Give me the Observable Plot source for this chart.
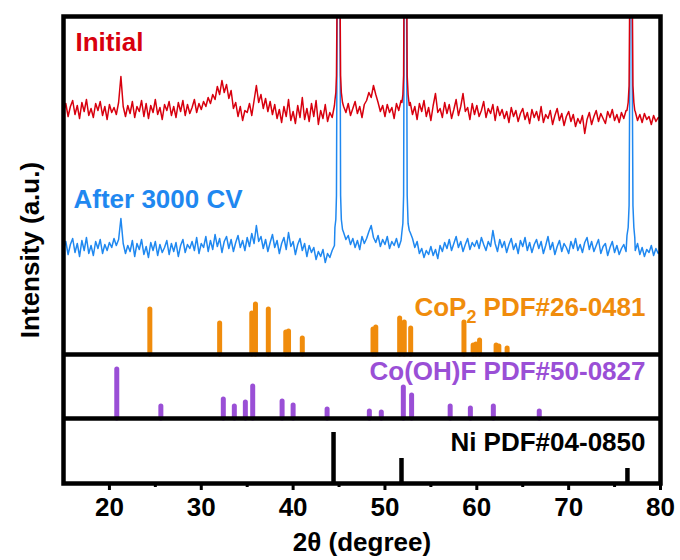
<!DOCTYPE html>
<html><head><meta charset="utf-8">
<script src="https://cdn.jsdelivr.net/npm/d3@7"></script>
<script src="https://cdn.jsdelivr.net/npm/@observablehq/plot@0.6"></script>
<style>body{margin:0;background:#fff}</style>
</head><body><div id="chart"></div>
<script>
// ---- data ----
const gridStart = 15, gridStep = 0.25; // 2θ sampling of the background scans
const redBase = [
18,27,14,24, 30,16,25,12, 28,19,31,15, 22,13,27,20, 29,15,24,11,
26,18,23,16, 28,54,24,14, 25,17,29,13, 24,19,30,14, 27,12,25,18,
31,16,23,11, 26,20,29,15, 24,13,28,19, 30,15,26,17, 23,31,18,27,
21,29,24,33, 27,36,31,44, 36,50,38,46, 32,40,22,28, 14,24,10,20,
18,27,15,30, 45,28,36,22, 32,19,29,16, 26,12,21,8, 24,14,31,10,
19,7,25,13, 33,11,22,9, 27,14,30,6, 20,12,26,9, 18,13,25,null,
null,null,24,18, 27,15,22,29, 17,24,13,26, 30,38,33,45, 36,28,19,25,
14,26,18,23, 12,27,20,30, null,null,null,28, 16,24,11,27, 19,30,14,23,
10,25,37,18, 22,13,28,17, 26,12,21,31, 15,24,37,19, 23,11,27,16,
25,14,20,29, 13,22,17,26, 10,24,15,21, 12,19,8,23, 14,20,9,17,
22,11,18,7, 21,13,19,10, 24,8,16,12, 20,6,15,22, 10,17,5,14,
19,9,16,4, 12,7,15,-3, 11,18,6,14, 20,9,17,12, 7,19,13,21,
10,16,8,18, 12,20,null,null, null,19,10,16, 8,17,11,14, 6,15,9,13,
12];
const blueBase = [
16,24,11,21, 27,13,22,9, 25,15,28,12, 20,10,24,17, 26,12,21,15,
23,18,27,20, 26,47,22,12, 20,14,25,9, 22,16,26,11, 19,8,23,15,
24,10,21,13, 18,25,11,22, 14,23,9,20, 26,13,21,17, 24,15,28,12,
22,18,29,14, 25,16,31,19, 27,13,24,29, 17,26,14,23, 30,18,25,15,
28,19,32,22, 40,24,29,17, 26,14,23,31, 18,25,12,22, 28,16,33,19,
24,11,21,27, 15,22,9,20, 13,18,6,14, 9,16,3,12, 8,15,20,null,
null,null,33,26, 30,21,27,18, 25,16,29,22, 27,34,40,28, 23,30,19,26,
21,29,17,24, 20,27,18,25, null,null,null,33, 27,18,24,12, 17,8,15,11,
19,10,16,7, 20,14,23,17, 26,15,22,29, 18,24,14,21, 27,16,23,19,
25,17,28,21, 15,24,19,35, 22,14,26,18, 24,13,21,27, 16,22,12,25,
19,28,15,23, 13,21,26,17, 24,12,20,29, 16,23,11,19, 25,14,22,18,
12,24,17,27, 15,21,13,23, 28,16,24,14, 20,26,12,19, 22,10,18,24,
13,20,11,17, 21,14,null,null, null,15,22,11, 18,9,16,13, 20,10,17,12,
15];
// sharp diffraction peaks (2θ, intensity)
const peak1X = [44.55,44.65,44.72,44.8,44.9,45.0,45.1,45.17,45.25,45.38];
const peak2X = [51.85,51.95,52.03,52.1,52.18,52.26,52.34,52.42,52.52,52.65];
const peak3X = [76.35,76.48,76.58,76.66,76.75,76.84,76.92,77.0,77.1,77.2];
const redPeak1 = [30,38,55,150,700,700,150,55,38,28];
const redPeak2 = [28,36,55,200,800,800,200,55,36,25];
const redPeak3 = [20,28,45,150,500,500,150,45,28,20];
const bluePeak1 = [38,46,70,280,1500,1500,280,70,46,36];
const bluePeak2 = [34,42,70,300,1500,1500,300,70,42,35];
const bluePeak3 = [30,38,60,200,700,700,200,60,38,28];

// reference patterns
const copX = [24.4,32.0,35.5,35.9,37.3,39.2,39.5,41.0,48.7,49.0,51.6,52.1,52.8,58.6,59.6,59.9,60.3,62.1,62.4,63.3];
const copI = [45,31,41,50,45,22,23,16,25,27,36,32,26,32,9,10,14,9,8,6];
const cohX = [20.8,25.6,32.4,33.6,34.8,35.6,38.8,40.0,43.7,48.3,49.6,52.0,52.9,57.1,59.3,61.8,66.8];
const cohI = [49,12,19,12,16,32,17,13,9,7,6,31,23,12,10,12,7];
const niX = [44.4,51.8,76.4];
const niI = [51,25,15];

const xTicks = [20,30,40,50,60,70,80];
const xMinorTicks = [25,35,45,55,65,75];
const labels = {
  initial: "Initial", after: "After 3000 CV",
  cop: "CoP2 PDF#26-0481", coh: "Co(OH)F PDF#50-0827", ni: "Ni PDF#04-0850",
  x: "2θ (degree)", y: "Intensity (a.u.)"
};

// ---- layout constants ----
const RED = "#d8000e", BLUE = "#1f88f0", ORANGE = "#f08c0c", PURPLE = "#9a4fd6";
const redOffset = 353, blueOffset = 218;
const copBase = 129, cohBase = 65, niBase = 0;

function buildSeries(base, peaks) {
  const pts = [];
  const windows = peaks.map(p => [p.x[0], p.x[p.x.length - 1]]);
  base.forEach((v, i) => {
    const x = gridStart + gridStep * i;
    if (v == null) return;
    if (windows.some(([a, b]) => x >= a && x <= b)) return;
    pts.push({x, v});
  });
  peaks.forEach(p => p.x.forEach((x, j) => pts.push({x, v: p.v[j]})));
  return pts.sort((a, b) => a.x - b.x);
}
const red = buildSeries(redBase, [{x: peak1X, v: redPeak1}, {x: peak2X, v: redPeak2}, {x: peak3X, v: redPeak3}]);
const blue = buildSeries(blueBase, [{x: peak1X, v: bluePeak1}, {x: peak2X, v: bluePeak2}, {x: peak3X, v: bluePeak3}]);
const cop = copX.map((x, i) => ({x, h: copI[i]}));
const coh = cohX.map((x, i) => ({x, h: cohI[i]}));
const ni = niX.map((x, i) => ({x, h: niI[i]}));

const font = {fontSize: 26, fontWeight: "bold"};
const plot = Plot.plot({
  width: 680, height: 560,
  marginLeft: 63, marginRight: 20, marginTop: 16, marginBottom: 77,
  style: {fontFamily: "'Liberation Sans', Arial, sans-serif", fontWeight: "bold", fontSize: "26px", background: "#fff"},
  x: {domain: [15, 80], axis: null},
  y: {domain: [0, 467], axis: null},
  marks: [
    Plot.line(blue, {x: "x", y: d => blueOffset + d.v, stroke: BLUE, strokeWidth: 1.5, clip: true}),
    Plot.line(red, {x: "x", y: d => redOffset + d.v, stroke: RED, strokeWidth: 1.5, clip: true}),
    Plot.ruleX(cop, {x: "x", y1: copBase, y2: d => copBase + d.h, stroke: ORANGE, strokeWidth: 5, strokeLinecap: "round"}),
    Plot.ruleX(coh, {x: "x", y1: cohBase, y2: d => cohBase + d.h, stroke: PURPLE, strokeWidth: 5, strokeLinecap: "round"}),
    Plot.ruleX(ni, {x: "x", y1: niBase, y2: d => niBase + d.h, stroke: "#000", strokeWidth: 4.5}),
    Plot.ruleY([copBase, cohBase], {stroke: "#000", strokeWidth: 4.5}),
    Plot.frame({stroke: "#000", strokeWidth: 4.5}),
    Plot.axisX({ticks: xTicks, tickSize: 7, tickPadding: 7, strokeWidth: 3, label: null, tickFormat: d => String(d), ...font}),
    Plot.axisX({ticks: xMinorTicks, tickSize: 4, strokeWidth: 3, label: null, tickFormat: () => ""}),
    Plot.text([labels.x], {frameAnchor: "bottom", dy: 59, textAnchor: "middle", lineAnchor: "middle", fill: "#000", ...font}),
    Plot.text([labels.y], {frameAnchor: "left", dx: -33, rotate: -90, textAnchor: "middle", lineAnchor: "middle", fill: "#000", ...font}),
    Plot.text([labels.initial], {frameAnchor: "top-left", textAnchor: "start", lineAnchor: "middle", dx: 12, dy: 26, fill: RED, ...font}),
    Plot.text([labels.after], {frameAnchor: "top-left", textAnchor: "start", lineAnchor: "middle", dx: 10, dy: 183, fill: BLUE, ...font}),
    Plot.text([labels.cop], {frameAnchor: "top-right", textAnchor: "end", lineAnchor: "middle", dx: -15, dy: 291, fill: ORANGE, ...font}),
    Plot.text([labels.coh], {frameAnchor: "top-right", textAnchor: "end", lineAnchor: "middle", dx: -15, dy: 355, fill: PURPLE, ...font}),
    Plot.text([labels.ni], {frameAnchor: "top-right", textAnchor: "end", lineAnchor: "middle", dx: -15, dy: 426, fill: "#000", ...font})
  ]
});
// subscript the 2 in CoP2
plot.querySelectorAll("text").forEach(t => {
  if (t.textContent === labels.cop) {
    t.textContent = "";
    const ns = "http://www.w3.org/2000/svg";
    t.appendChild(document.createTextNode("CoP"));
    const s = document.createElementNS(ns, "tspan");
    s.setAttribute("dy", "7"); s.setAttribute("font-size", "18"); s.textContent = "2";
    const r = document.createElementNS(ns, "tspan");
    r.setAttribute("dy", "-7"); r.textContent = " PDF#26-0481";
    t.appendChild(s); t.appendChild(r);
  }
});
document.getElementById("chart").appendChild(plot);
</script></body></html>
